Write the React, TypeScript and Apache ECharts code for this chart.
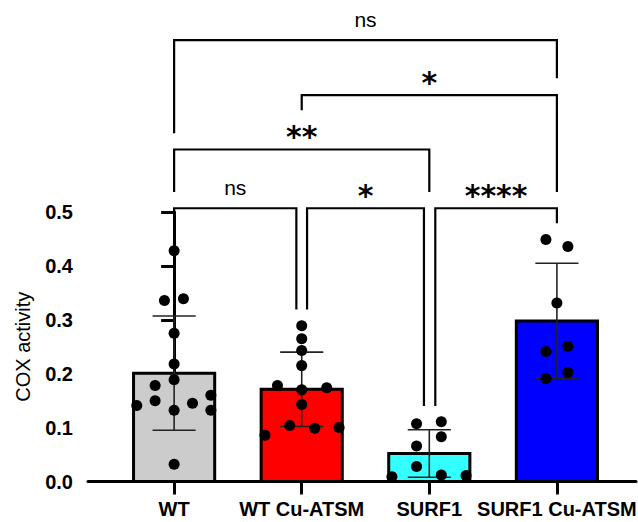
import React, { useEffect, useRef } from 'react';
import * as echarts from 'echarts';

const categories = ['WT', 'WT Cu-ATSM', 'SURF1', 'SURF1 Cu-ATSM'];
const barColors = ['#cccccc', '#ff0000', '#33ffff', '#0000ff'];
const means = [0.201, 0.171, 0.052, 0.298];
const sds = [0.106, 0.069, 0.044, 0.107];

const wtValues = [0.428, 0.336, 0.339, 0.275, 0.218, 0.189, 0.178, 0.15, 0.141, 0.132, 0.145, 0.16, 0.132, 0.032];
const wtCuValues = [0.289, 0.265, 0.243, 0.215, 0.178, 0.174, 0.17, 0.143, 0.104, 0.099, 0.086, 0.1];
const surf1Values = [0.107, 0.111, 0.083, 0.066, 0.028, 0.009, 0.012, 0.011];
const surf1CuValues = [0.449, 0.436, 0.331, 0.251, 0.241, 0.202, 0.191];

// horizontal scatter offsets (in category units) for the dots
const wtJitter = [0, -0.076, 0.073, 0, 0, 0, -0.149, -0.149, -0.293, 0, 0.144, 0.288, 0.288, 0];
const wtCuJitter = [0, 0, 0, 0, -0.19, 0.196, 0, 0, -0.094, 0.102, -0.288, 0.293];
const surf1Jitter = [-0.1, 0.094, 0.094, -0.1, -0.1, -0.293, 0.094, 0.288];
const surf1CuJitter = [-0.086, 0.086, 0, 0.086, -0.086, 0.086, -0.086];

const yTicks = [0, 0.1, 0.2, 0.3, 0.4, 0.5];

// brackets: [leftX, rightX, topY, leftLegEndY, rightLegEndY]
const brackets = [
  [0, 0.958, 0.507, 0.458, 0.319],
  [1.042, 1.958, 0.507, 0.319, 0.14],
  [2.047, 3, 0.507, 0.14, 0.479],
  [0, 2, 0.616, 0.537, 0.537],
  [1, 3, 0.717, 0.689, 0.537],
  [0, 3, 0.819, 0.646, 0.748],
];
const bracketLabels = ['ns', '*', '****', '**', '*', 'ns'];

export default function App() {
  const ref = useRef<HTMLDivElement>(null);
  useEffect(() => {
    if (!ref.current) return;
    const chart = echarts.init(ref.current, null, { renderer: 'svg' });
    const groups = [wtValues, wtCuValues, surf1Values, surf1CuValues];
    const jitters = [wtJitter, wtCuJitter, surf1Jitter, surf1CuJitter];
    const dots: number[][] = [];
    groups.forEach((vals, gi) => vals.forEach((v, k) => dots.push([gi + jitters[gi][k], v])));
    const halfBar = 0.318;
    const halfCap = 0.169;
    const font = 'Liberation Sans, Arial, sans-serif';

    chart.setOption({
      animation: false,
      grid: { left: 88, right: 2, top: 212, bottom: 40.5, outerBoundsMode: 'none', containLabel: false },
      xAxis: {
        type: 'value',
        min: -0.675,
        max: 3.62,
        splitLine: { show: false },
        axisLine: { show: true, lineStyle: { color: '#000', width: 3 } },
        axisTick: { show: true, customValues: [0, 1, 2, 3], length: 13, lineStyle: { color: '#000', width: 3 } },
        axisLabel: {
          customValues: [0, 1, 2, 3],
          formatter: (v: number) => categories[Math.round(v)] ?? '',
          color: '#000',
          fontFamily: font,
          fontWeight: 'bold',
          fontSize: 20,
          margin: 17,
          hideOverlap: false,
        },
      },
      yAxis: {
        type: 'value',
        min: yTicks[0],
        max: yTicks[yTicks.length - 1],
        interval: 0.1,
        splitLine: { show: false },
        axisLine: { show: true, lineStyle: { color: '#000', width: 3 } },
        axisTick: { show: true, length: 13, lineStyle: { color: '#000', width: 3 } },
        axisLabel: {
          formatter: (v: number) => v.toFixed(1),
          color: '#000',
          fontFamily: font,
          fontWeight: 'bold',
          fontSize: 20,
          margin: 15,
        },
        name: 'COX activity',
        nameLocation: 'middle',
        nameRotate: 90,
        nameGap: 55,
        nameTextStyle: { color: '#000', fontFamily: font, fontSize: 20 },
      },
      series: [
        {
          type: 'custom',
          clip: false,
          z: 1,
          data: means.map((m, i) => [i, m]),
          encode: { x: 0, y: 1 },
          renderItem: (params: any, api: any) => {
            const i = api.value(0);
            const m = api.value(1);
            const p0 = api.coord([i - halfBar, 0]);
            const p1 = api.coord([i + halfBar, m]);
            return {
              type: 'rect',
              shape: { x: p0[0], y: p1[1], width: p1[0] - p0[0], height: p0[1] - p1[1] },
              style: { fill: barColors[i], stroke: '#000', lineWidth: 3 },
            };
          },
        },
        {
          type: 'custom',
          clip: false,
          z: 2,
          data: means.map((m, i) => [i, m - sds[i], m + sds[i]]),
          encode: { x: 0, y: [1, 2] },
          renderItem: (params: any, api: any) => {
            const i = api.value(0);
            const lo = api.value(1);
            const hi = api.value(2);
            const a = api.coord([i, lo]);
            const b = api.coord([i, hi]);
            const cl = api.coord([i - halfCap, lo]);
            const cr = api.coord([i + halfCap, lo]);
            const hl = api.coord([i - halfCap, hi]);
            const hr = api.coord([i + halfCap, hi]);
            const st = { stroke: '#222', lineWidth: 1.6 };
            return {
              type: 'group',
              children: [
                { type: 'line', shape: { x1: a[0], y1: a[1], x2: b[0], y2: b[1] }, style: st },
                { type: 'line', shape: { x1: cl[0], y1: cl[1], x2: cr[0], y2: cr[1] }, style: st },
                { type: 'line', shape: { x1: hl[0], y1: hl[1], x2: hr[0], y2: hr[1] }, style: st },
              ],
            };
          },
        },
        {
          type: 'scatter',
          z: 3,
          symbol: 'circle',
          symbolSize: 11,
          itemStyle: { color: '#000', opacity: 1 },
          data: dots,
        },
        {
          type: 'custom',
          clip: false,
          z: 4,
          data: brackets,
          encode: { x: [0, 1], y: [2, 3, 4] },
          renderItem: (params: any, api: any) => {
            const x1 = api.value(0);
            const x2 = api.value(1);
            const yt = api.value(2);
            const yl = api.value(3);
            const yr = api.value(4);
            const pL = api.coord([x1, yl]);
            const pT1 = api.coord([x1, yt]);
            const pT2 = api.coord([x2, yt]);
            const pR = api.coord([x2, yr]);
            const label = bracketLabels[params.dataIndex];
            const isNs = label === 'ns';
            return {
              type: 'group',
              children: [
                {
                  type: 'polyline',
                  shape: { points: [pL, pT1, pT2, pR] },
                  style: { stroke: '#000', lineWidth: 2.2, fill: null },
                },
                {
                  type: 'text',
                  x: (pT1[0] + pT2[0]) / 2,
                  y: pT1[1] - (isNs ? 21 : 13),
                  style: {
                    text: label,
                    align: 'center',
                    verticalAlign: 'middle',
                    fill: '#000',
                    fontFamily: isNs ? font : 'DejaVu Sans',
                    fontWeight: isNs ? 'normal' : 'bold',
                    fontSize: isNs ? 21 : 30,
                  },
                },
              ],
            };
          },
        },
      ],
    });
    return () => chart.dispose();
  }, []);
  return <div ref={ref} style={{ width: 638, height: 522, position: 'absolute', left: 0, top: 0 }} />;
}
